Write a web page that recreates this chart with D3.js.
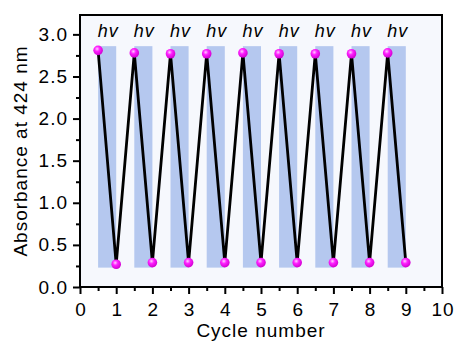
<!DOCTYPE html>
<html>
<head>
<meta charset="utf-8">
<script src="https://cdn.jsdelivr.net/npm/d3@7"></script>
<style>
  body { margin: 0; background: #fff; }
  text { font-family: "Liberation Sans", Arial, sans-serif; letter-spacing: 1px; }
</style>
</head>
<body>
<svg id="chart" width="456" height="345"></svg>
<script>
// absorbance: peaks after irradiation, troughs after recovery
var peakCycle = [0.5, 1.5, 2.5, 3.5, 4.5, 5.5, 6.5, 7.5, 8.5];
var peakAbs = [2.81, 2.78, 2.77, 2.77, 2.78, 2.77, 2.77, 2.77, 2.78];
var lowCycle = [1, 2, 3, 4, 5, 6, 7, 8, 9];
var lowAbs = [0.27, 0.29, 0.29, 0.29, 0.29, 0.29, 0.29, 0.29, 0.29];
var bandStart = [0.5, 1.5, 2.5, 3.5, 4.5, 5.5, 6.5, 7.5, 8.5];
var bandEnd = [1, 2, 3, 4, 5, 6, 7, 8, 9];
var bandTop = 2.86, bandBottom = 0.23;
var xTicks = [0, 1, 2, 3, 4, 5, 6, 7, 8, 9, 10];
var yTicks = [0, 0.5, 1, 1.5, 2, 2.5, 3];

var svg = d3.select("#chart");
var margin = { left: 80, right: 14, top: 15, bottom: 58 };
var width = 456 - margin.left - margin.right;
var height = 345 - margin.top - margin.bottom;

var x = d3.scaleLinear().domain([0, 10]).range([0, width]);
var y = d3.scaleLinear().domain([0, 3.23]).range([height, 0]);

var g = svg.append("g")
    .attr("transform", "translate(" + margin.left + "," + margin.top + ")");

g.append("rect")
    .attr("width", width)
    .attr("height", height)
    .attr("fill", "#f6f8fd");

g.selectAll(".band")
    .data(bandStart)
    .enter().append("rect")
      .attr("class", "band")
      .attr("x", function(d) { return x(d); })
      .attr("width", function(d, i) { return x(bandEnd[i]) - x(d); })
      .attr("y", y(bandTop))
      .attr("height", y(bandBottom) - y(bandTop))
      .attr("fill", "#b5c8ef");

g.selectAll(".hv")
    .data(bandStart)
    .enter().append("text")
      .attr("class", "hv")
      .attr("x", function(d, i) { return x((d + bandEnd[i]) / 2) + 1; })
      .attr("y", 22)
      .attr("text-anchor", "middle")
      .style("font-size", "18px")
      .style("font-style", "italic")
      .text("hv");

// zigzag: peak, trough, peak, ...
var pts = [];
peakCycle.forEach(function(c, i) {
  pts.push([c, peakAbs[i]]);
  pts.push([lowCycle[i], lowAbs[i]]);
});

g.append("path")
    .datum(pts)
    .attr("fill", "none")
    .attr("stroke", "black")
    .attr("stroke-width", 2.8)
    .attr("d", d3.line().x(function(d) { return x(d[0]); }).y(function(d) { return y(d[1]); }));

var defs = svg.append("defs");
var grad = defs.append("radialGradient")
    .attr("id", "ball")
    .attr("cx", "40%").attr("cy", "35%").attr("r", "65%");
grad.append("stop").attr("offset", "0%").attr("stop-color", "#ffd0ff");
grad.append("stop").attr("offset", "40%").attr("stop-color", "#ff20ff");
grad.append("stop").attr("offset", "100%").attr("stop-color", "#d000d0");

g.selectAll(".dot")
    .data(pts)
    .enter().append("circle")
      .attr("class", "dot")
      .attr("cx", function(d) { return x(d[0]); })
      .attr("cy", function(d) { return y(d[1]); })
      .attr("r", 4.8)
      .attr("fill", "url(#ball)");

// axes
var xAxis = g.append("g")
    .attr("transform", "translate(0," + height + ")")
    .call(d3.axisBottom(x).tickValues(xTicks).tickFormat(d3.format("d")).tickSize(7).tickPadding(9));
var xMinor = g.append("g")
    .attr("transform", "translate(0," + height + ")")
    .call(d3.axisBottom(x).tickValues(d3.range(0.5, 10, 1)).tickFormat("").tickSize(4));

var yAxis = g.append("g")
    .call(d3.axisLeft(y).tickValues(yTicks).tickFormat(d3.format(".1f")).tickSize(7).tickPadding(5));
var yMinor = g.append("g")
    .call(d3.axisLeft(y).tickValues(d3.range(0.25, 3.2, 0.5)).tickFormat("").tickSize(4));

[xAxis, xMinor, yAxis, yMinor].forEach(function(a) {
  a.select(".domain").remove();
  a.selectAll("line").attr("stroke", "black").attr("stroke-width", 2);
  a.selectAll("text").style("font-size", "19px").attr("fill", "black");
});
xAxis.selectAll("text").attr("dx", "0.5px");

g.append("rect")
    .attr("width", width)
    .attr("height", height)
    .attr("fill", "none")
    .attr("stroke", "black")
    .attr("stroke-width", 2);

svg.append("text")
    .attr("x", margin.left + width / 2)
    .attr("y", 337)
    .attr("text-anchor", "middle")
    .style("font-size", "19px")
    .text("Cycle number");

svg.append("text")
    .attr("transform", "translate(27," + (margin.top + height / 2) + ") rotate(-90)")
    .attr("text-anchor", "middle")
    .style("font-size", "19px")
    .text("Absorbance at 424 nm");
</script>
</body>
</html>
